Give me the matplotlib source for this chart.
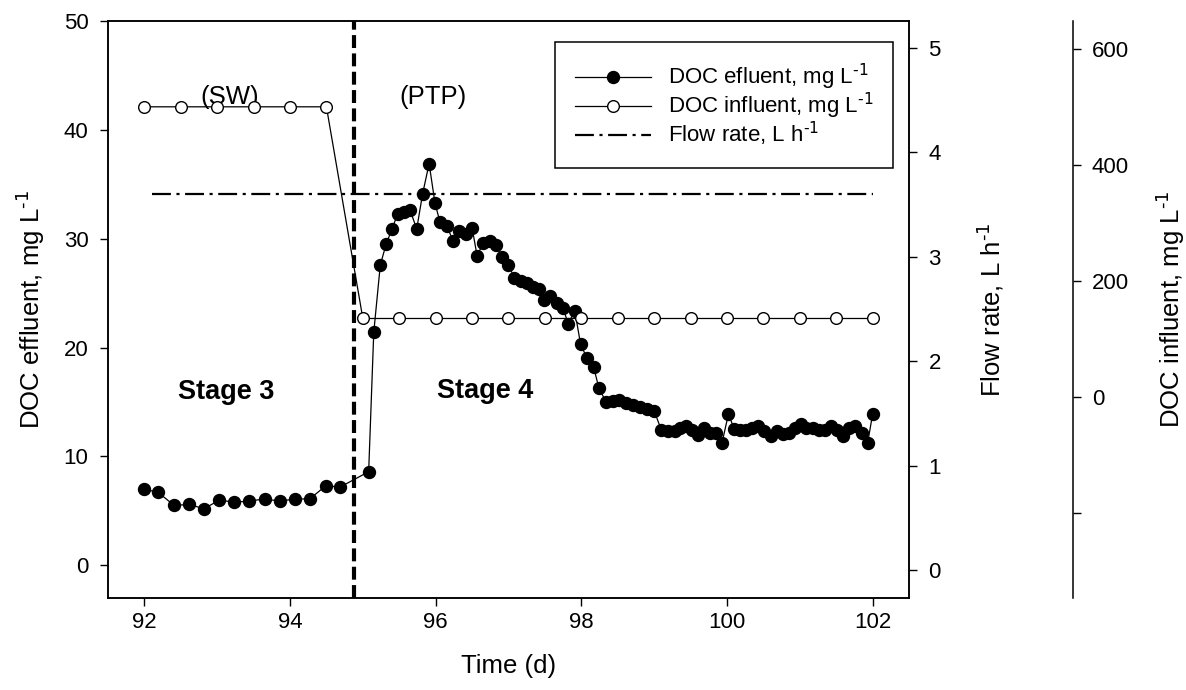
import matplotlib
matplotlib.use("Agg")
import matplotlib.pyplot as plt
from matplotlib.lines import Line2D

plt.rcParams['font.family'] = ['Liberation Sans', 'DejaVu Sans']
plt.rcParams['mathtext.default'] = 'regular'

# DOC effluent (mg/L) vs time (d)
eff_days = [92.0, 92.19, 92.41, 92.61, 92.82, 93.03, 93.23, 93.44, 93.65, 93.86,
            94.07, 94.27, 94.49, 94.69, 95.08,
            95.15, 95.24, 95.32, 95.40, 95.48, 95.57, 95.65, 95.74, 95.82, 95.91,
            95.99, 96.06, 96.15, 96.24, 96.32, 96.41, 96.50, 96.57, 96.65, 96.74,
            96.83, 96.91, 97.00, 97.08, 97.17, 97.25, 97.33, 97.42, 97.49, 97.57,
            97.66, 97.75, 97.82, 97.91, 97.99, 98.08, 98.17, 98.24, 98.34, 98.43,
            98.52, 98.62, 98.71, 98.80, 98.90, 99.00,
            99.10, 99.19, 99.28, 99.36, 99.44, 99.52, 99.60, 99.69, 99.77, 99.85,
            99.93, 100.02, 100.10, 100.18, 100.26, 100.35, 100.43, 100.51, 100.60, 100.68,
            100.77, 100.85, 100.93, 101.02, 101.09, 101.18, 101.26, 101.35, 101.43, 101.51,
            101.59, 101.68, 101.76, 101.85, 101.93, 102.0]
eff_vals = [7.0, 6.7, 5.5, 5.6, 5.2, 6.0, 5.8, 5.9, 6.1, 5.9,
            6.1, 6.1, 7.3, 7.2, 8.6,
            21.4, 27.6, 29.5, 30.9, 32.3, 32.5, 32.6, 30.9, 34.1, 36.9,
            33.3, 31.5, 31.2, 29.8, 30.7, 30.4, 31.0, 28.4, 29.6, 29.8,
            29.4, 28.3, 27.6, 26.4, 26.1, 25.9, 25.6, 25.4, 24.4, 24.7,
            24.1, 23.6, 22.2, 23.4, 20.3, 19.0, 18.2, 16.3, 15.0, 15.1,
            15.2, 14.9, 14.7, 14.5, 14.4, 14.2,
            12.4, 12.3, 12.3, 12.6, 12.8, 12.4, 12.0, 12.6, 12.2, 12.2,
            11.2, 13.9, 12.5, 12.4, 12.4, 12.6, 12.8, 12.3, 11.9, 12.3,
            12.1, 12.2, 12.6, 13.0, 12.6, 12.6, 12.4, 12.4, 12.8, 12.4,
            11.9, 12.6, 12.8, 12.2, 11.2, 13.9]

# DOC influent (mg/L)
inf_days = [92.0, 92.5, 93.0, 93.5, 94.0, 94.5,
            95.0, 95.5, 96.0, 96.5, 97.0, 97.5, 98.0, 98.5, 99.0, 99.5,
            100.0, 100.5, 101.0, 101.5, 102.0]
inf_vals = [500, 500, 500, 500, 500, 500,
            135, 135, 135, 135, 135, 135, 135, 135, 135, 135,
            135, 135, 135, 135, 135]

# flow rate (L/h)
flow_days = [92.1, 102.0]
flow_vals = [3.6, 3.6]

stage_change = 94.88

sup = r'$^{\text{-1}}$'

fig = plt.figure(figsize=(11.86, 6.9), dpi=100)
ax = fig.add_axes([0.091, 0.1333, 0.6755, 0.8363])
ax2 = ax.twinx()
ax3 = ax.twinx()

ax.plot(eff_days, eff_vals, color='black', lw=0.9, marker='o', ms=8.6,
        mfc='black', mec='black', zorder=3)
ax.axvline(stage_change, color='black', lw=3, dashes=(3.1, 1.3))

ax2.plot(flow_days, flow_vals, color='black', lw=1.6,
         dashes=(8.5, 2.5, 1.4, 2.5))

ax3.plot(inf_days, inf_vals, color='black', lw=0.9, marker='o', ms=8.4,
         mfc='white', mec='black', mew=1.0, zorder=3)

ax.set_xlim(91.5, 102.5)
ax.set_ylim(-3, 50)
ax2.set_ylim(-0.27, 5.26)
ax3.set_ylim(-347, 648)

ax.set_xticks([92, 94, 96, 98, 100, 102])
ax.set_yticks([0, 10, 20, 30, 40, 50])
ax2.set_yticks([0, 1, 2, 3, 4, 5])
ax3.set_yticks([-200, 0, 200, 400, 600])
ax3.set_yticklabels(['', '0', '200', '400', '600'])

for a in (ax, ax2, ax3):
    a.tick_params(direction='out', length=6, width=1, labelsize=16, pad=8)
    for s in a.spines.values():
        s.set_linewidth(1.1)
ax.tick_params(axis='x', pad=4)

ax3.spines['right'].set_position(('axes', 1.204))
for side in ('left', 'top', 'bottom'):
    ax3.spines[side].set_visible(False)

ax.set_xlabel('Time (d)', fontsize=18.5, labelpad=15)
ax.set_ylabel('DOC effluent, mg L' + sup, fontsize=18.5)
ax.yaxis.set_label_coords(-0.076, 0.5)
ax2.set_ylabel('Flow rate, L h' + sup, fontsize=18.5)
ax2.yaxis.set_label_coords(1.082, 0.5)
ax3.set_ylabel('DOC influent, mg L' + sup, fontsize=18.5)
ax3.yaxis.set_label_coords(1.306, 0.5)

ax.text(93.17, 43.0, '(SW)', fontsize=18.5, ha='center', va='center')
ax.text(95.96, 43.0, '(PTP)', fontsize=18.5, ha='center', va='center')
ax.text(93.13, 15.9, 'Stage 3', fontsize=19.5, fontweight='bold', ha='center', va='center')
ax.text(96.68, 16.0, 'Stage 4', fontsize=19.5, fontweight='bold', ha='center', va='center')

handles = [
    Line2D([], [], color='black', lw=0.9, marker='o', ms=8.6, mfc='black', mec='black'),
    Line2D([], [], color='black', lw=0.9, marker='o', ms=8.4, mfc='white', mec='black'),
    Line2D([], [], color='black', lw=1.6, dashes=(8.5, 2.5, 1.4, 2.5)),
]
labels = ['DOC efluent, mg L' + sup, 'DOC influent, mg L' + sup, 'Flow rate, L h' + sup]
leg = ax3.legend(handles, labels, loc='upper right', bbox_to_anchor=(0.98, 0.9636),
                 fontsize=16, handlelength=3.4, handletextpad=0.75, numpoints=1,
                 frameon=True, fancybox=False, framealpha=1, edgecolor='black',
                 borderpad=0.9, labelspacing=-0.05, borderaxespad=0)
leg.get_frame().set_linewidth(1.1)

fig.savefig('out.png', dpi=100)
